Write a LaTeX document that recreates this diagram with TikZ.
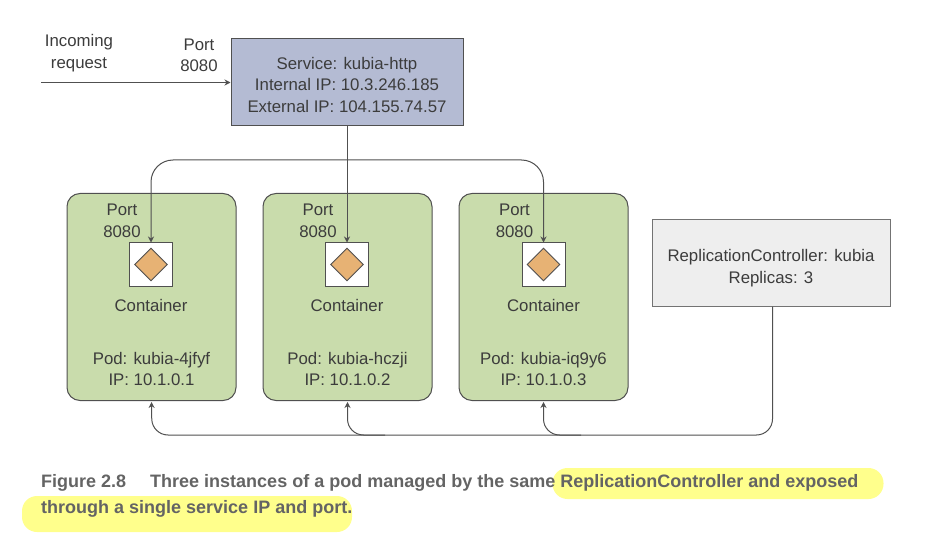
\documentclass[tikz,border=0pt]{standalone}
\usepackage{xcolor}
\usepackage{fontspec}
\setmainfont{Liberation Sans}
\usetikzlibrary{shapes.geometric, arrows.meta, positioning}
\definecolor{clrService}{RGB}{180,187,211}
\definecolor{clrPod}{RGB}{201,220,172}
\definecolor{clrCtrl}{RGB}{238,238,238}
\definecolor{clrDiamond}{RGB}{231,178,116}
\definecolor{clrMark}{RGB}{255,255,140}
\definecolor{clrLine}{RGB}{80,80,80}
\definecolor{clrText}{RGB}{60,60,60}
\definecolor{clrCaption}{RGB}{100,100,100}

\begin{document}
\begin{tikzpicture}[
  x=1pt, y=1pt,
  node distance=26pt,
  lbl/.style={font=\fontsize{16.8}{21.5}\selectfont, text=clrText, align=center, inner sep=0pt},
  svcbox/.style={
    rectangle, draw=clrLine, line width=1pt, fill=clrService,
    minimum width=232pt, minimum height=87pt
  },
  ctrlbox/.style={svcbox, fill=clrCtrl, draw=clrLine!80, minimum width=238pt, minimum height=86pt},
  podbox/.style={
    rectangle, rounded corners=13pt, draw=clrLine, line width=1pt, fill=clrPod,
    minimum width=169pt, minimum height=207pt
  },
  cntbox/.style={rectangle, draw=clrLine, line width=1pt, fill=white, minimum width=43pt, minimum height=43pt},
  gem/.style={diamond, draw=clrLine, line width=.9pt, fill=clrDiamond, inner sep=0pt, minimum width=33pt, minimum height=33pt},
  arrow/.style={-{Stealth[length=6pt,width=6pt]}, line width=1pt, color=clrLine},
  elbow/.style={arrow, rounded corners=16pt},
  hilite/.style={rectangle, rounded corners=15pt, fill=clrMark, inner sep=0pt},
  captxt/.style={font=\fontsize{18}{18}\selectfont\bfseries, text=clrCaption, anchor=base west, inner sep=0pt}
]
\useasboundingbox (0,0) rectangle (946,542);

\node[svcbox] (service) at (347,459.5) {};
\node[lbl, yshift=-2pt] (svctext) at (service) {Service: kubia-http\\Internal IP: 10.3.246.185\\External IP: 104.155.74.57};
\node[lbl] (incoming) at (79,489) {Incoming\\request};
\node[lbl] (port0) at (199,486.5) {Port\\8080};
\coordinate (start) at (41,459.5);

% Pods
\node[podbox] (pod1) at (151.5,245) {};
\node[podbox, right=of pod1] (pod2) {};
\node[podbox, right=of pod2] (pod3) {};

\node[cntbox] (cnt1) at (151,277.5) {};
\node[cntbox] (cnt2) at (347,277.5) {};
\node[cntbox] (cnt3) at (543.5,277.5) {};
\node[gem] (gem1) at (cnt1) {};
\node[gem] (gem2) at (cnt2) {};
\node[gem] (gem3) at (cnt3) {};

\node[lbl, above=5pt of cnt1, xshift=-29pt] (port1) {Port\\8080};
\node[lbl, above=5pt of cnt2, xshift=-29pt] (port2) {Port\\8080};
\node[lbl, above=5pt of cnt3, xshift=-29pt] (port3) {Port\\8080};

\node[lbl, below=12.5pt of cnt1] (name1) {Container};
\node[lbl, below=12.5pt of cnt2] (name2) {Container};
\node[lbl, below=12.5pt of cnt3] (name3) {Container};

\node[lbl, above=15pt of pod1.south] (info1) {Pod: kubia-4jfyf\\IP: 10.1.0.1};
\node[lbl, above=15pt of pod2.south] (info2) {Pod: kubia-hczji\\IP: 10.1.0.2};
\node[lbl, above=15pt of pod3.south] (info3) {Pod: kubia-iq9y6\\IP: 10.1.0.3};

\node[ctrlbox] (ctrl) at (771,279) {};
\node[lbl, yshift=-5pt] (ctrltext) at (ctrl) {ReplicationController: kubia\\Replicas: 3};

\coordinate (top) at (347,382);
\coordinate (low1) at (152,107);
\coordinate (tap2) at (385,107);
\coordinate (tap3) at (581,107);

\draw[arrow] (start) -- (service.west);
\draw[arrow] (service.south) -- (cnt2.north);
\draw[elbow, rounded corners=22pt] (top) -| (cnt1.north);
\draw[elbow, rounded corners=22pt] (top) -| (cnt3.north);
\draw[elbow] ([xshift=1.5pt]ctrl.south) |- (low1) -- ([yshift=-1pt]pod1.south);
\draw[elbow] (tap2) -| ([yshift=-1pt]pod2.south);
\draw[elbow] (tap3) -| ([yshift=-1pt]pod3.south);

% Caption
\node[hilite, minimum width=331pt, minimum height=31pt] (mark1) at (718,58.5) {};
\node[hilite, minimum width=330pt, minimum height=36pt] (mark2) at (187,28) {};
\node[captxt] (cap1) at (41,55) {Figure 2.8\hspace{24pt}Three instances of a pod managed by the same ReplicationController and exposed};
\node[captxt] (cap2) at (41,29) {through a single service IP and port.};

\end{tikzpicture}
\end{document}
